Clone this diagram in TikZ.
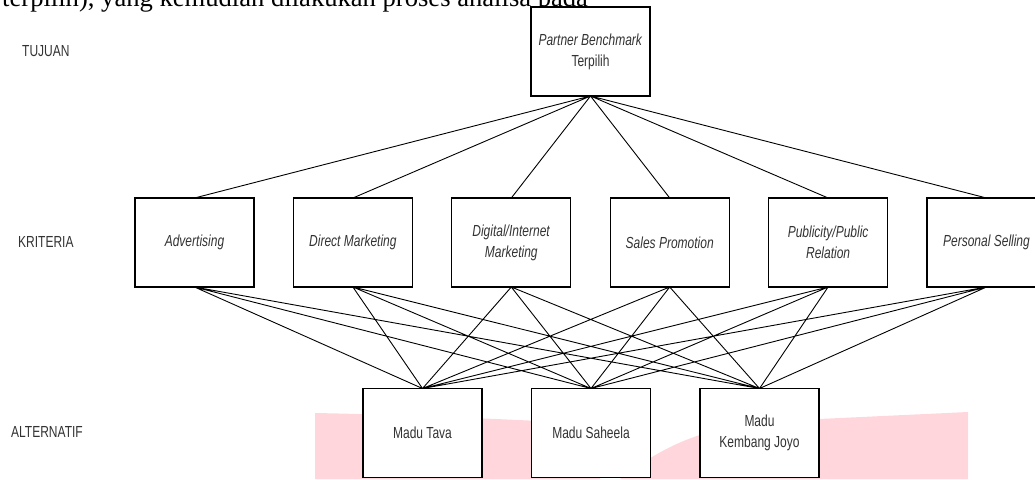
\documentclass[tikz,border=0pt]{standalone}
\usepackage{fontspec}
\setmainfont{Liberation Sans}[FakeStretch=0.75]
\newfontfamily\bodyfont{Liberation Serif}
\usepackage{xcolor}
\usepackage{tikz}
\usetikzlibrary{positioning}
\definecolor{textgray}{HTML}{333333}
\definecolor{markpink}{HTML}{FFD6DC}
\tikzset{
	align=center,
	every node/.style={font=\fontsize{16}{21}\selectfont, text=textgray},
	box/.style={draw=black, line width=1.1pt, fill=white, outer sep=0pt,
		minimum width=119pt, minimum height=89pt, inner sep=2pt},
	level/.style={anchor=west, inner sep=0pt},
	link/.style={line width=0.9pt, black}
}

\begin{document}
\begin{tikzpicture}[x=1pt, y=-1pt]
	\useasboundingbox (0,0) rectangle (1035,479);
	% watermark behind the alternatives
	\fill[markpink] (315,413) .. controls (420,415) and (520,420) .. (600,424)
		-- (600,479) -- (315,479) -- cycle;
	\fill[markpink] (620,479) .. controls (660,450) and (700,420) .. (819,419)
		-- (968,412) -- (968,479) -- cycle;
	% line of body text above the figure
	\node[anchor=base west, inner sep=0pt, text=black,
		font=\bodyfont\fontsize{26.6}{30}\selectfont] (prev) at (2,6)
		{terpilih), yang kemudian dilakukan proses analisa pada};
	% levels
	\node[level] (tujuan)     at (22,51)  {TUJUAN};
	\node[level] (kriteria)   at (18,242) {KRITERIA};
	\node[level] (alternatif) at (11,432) {ALTERNATIF};
	% goal
	\node[box] (goal) at (590.5,51.5) {\textit{Partner Benchmark}\\Terpilih};
	% criteria
	\node[box]                        (adv) at (194.5,242.5) {\textit{Advertising}};
	\node[box, right=39.4pt of adv]   (dir) {\textit{Direct Marketing}};
	\node[box, right=39.4pt of dir]   (dig) {\textit{Digital/Internet}\\\textit{Marketing}};
	\node[box, right=39.4pt of dig]   (sal) {\textit{Sales Promotion}};
	\node[box, right=39.4pt of sal]   (pub) {\textit{Publicity/Public}\\\textit{Relation}};
	\node[box, right=39.4pt of pub]   (per) {\textit{Personal Selling}};
	% alternatives
	\node[box]                        (tava) at (422.5,433) {Madu Tava};
	\node[box, right=49.5pt of tava]  (sah)  {Madu Saheela};
	\node[box, right=49.5pt of sah]   (kem)  {Madu\\Kembang Joyo};
	\draw[link]
	(goal.south) -- (adv.north)
	(goal.south) -- (dir.north)
	(goal.south) -- (dig.north)
	(goal.south) -- (sal.north)
	(goal.south) -- (pub.north)
	(goal.south) -- (per.north)
	(adv.south) -- (tava.north) (adv.south) -- (sah.north) (adv.south) -- (kem.north)
	(dir.south) -- (tava.north) (dir.south) -- (sah.north) (dir.south) -- (kem.north)
	(dig.south) -- (tava.north) (dig.south) -- (sah.north) (dig.south) -- (kem.north)
	(sal.south) -- (tava.north) (sal.south) -- (sah.north) (sal.south) -- (kem.north)
	(pub.south) -- (tava.north) (pub.south) -- (sah.north) (pub.south) -- (kem.north)
	(per.south) -- (tava.north) (per.south) -- (sah.north) (per.south) -- (kem.north)
	;
\end{tikzpicture}
\end{document}
